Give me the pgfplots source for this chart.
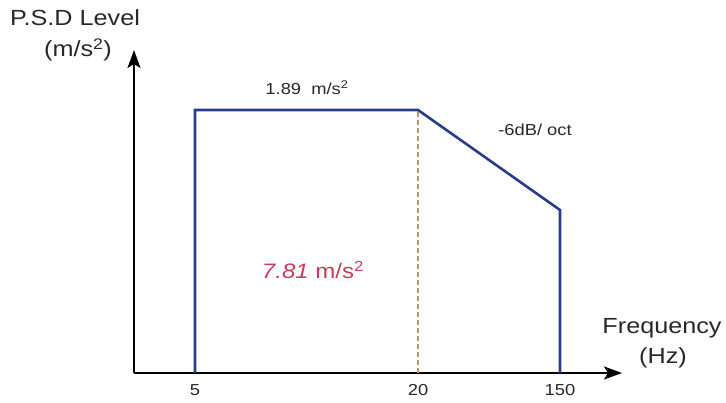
\documentclass[border=0pt]{standalone}
\usepackage{pgfplots}
\pgfplotsset{compat=1.18}
\usepackage{fontspec}
\setmainfont[FakeStretch=1.15]{Liberation Sans}
\usetikzlibrary{arrows.meta}
\definecolor{navy}{RGB}{40,60,140}
\definecolor{tan}{RGB}{200,150,100}
\definecolor{redtxt}{RGB}{200,60,90}
\definecolor{txt}{RGB}{40,40,40}
\begin{document}
\begin{tikzpicture}[x=1bp,y=1bp]
\begin{axis}[
  scale only axis,
  width=488bp, height=323bp,
  xmin=0, xmax=488, ymin=0, ymax=323,
  axis lines=left,
  axis line style={line width=2.2bp, black, -{Stealth[length=18bp,width=13bp,inset=4bp]}},
  xtick={61,284,426},
  xticklabels={5,20,150},
  ytick=\empty,
  major tick length=0pt,
  xticklabel style={font=\fontsize{16}{18}\selectfont, text=txt, yshift=-8bp},
  clip=false,
]
% tan dashed divider at 20 Hz
\addplot[tan, line width=1.4bp, dash pattern=on 5bp off 3bp] coordinates {(284,0) (284,263)};
% PSD profile
\addplot[navy, line width=2.6bp, line join=miter] coordinates {
  (61,0) (61,263) (284,263) (426,163) (426,0)};
% labels
\node[text=txt, font=\fontsize{22}{24}\selectfont] at (axis cs:-59,355) {P.S.D Level};
\node[text=txt, font=\fontsize{22}{24}\selectfont] at (axis cs:-56,323) {(m/s\textsuperscript{2})};
\node[text=txt, font=\fontsize{22}{24}\selectfont] at (axis cs:528,45) {Frequency};
\node[text=txt, font=\fontsize{22}{24}\selectfont] at (axis cs:529,15) {(Hz)};
\node[text=txt, font=\fontsize{16}{18}\selectfont] at (axis cs:173,285) {1.89\ \ m/s\textsuperscript{2}};
\node[text=txt, font=\fontsize{16}{18}\selectfont] at (axis cs:401,243) {-6dB/ oct};
\node[text=redtxt, font=\fontsize{21}{24}\selectfont] at (axis cs:179,103) {\textit{7.81} m/s\textsuperscript{2}};
\coordinate (bl) at (axis cs:-134,-30);
\coordinate (tr) at (axis cs:592,373);
\end{axis}
\useasboundingbox (bl) rectangle (tr);
\end{tikzpicture}
\end{document}
